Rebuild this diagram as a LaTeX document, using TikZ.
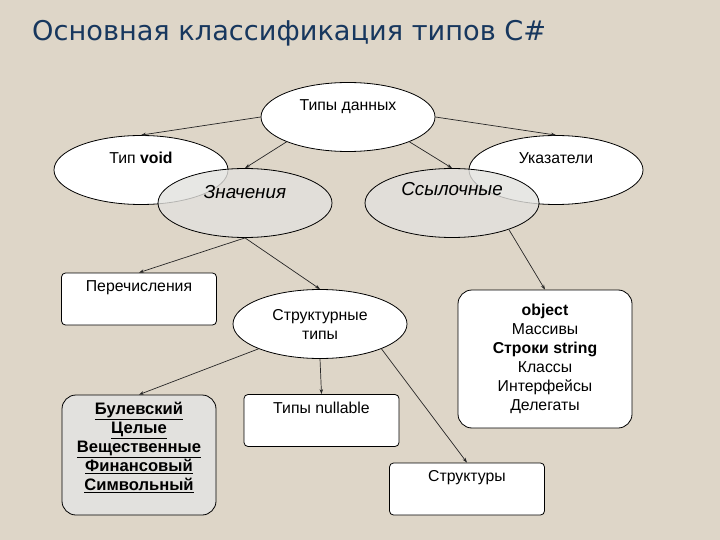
\documentclass[tikz,border=0pt]{standalone}
\usepackage{fontspec}
\setmainfont{Liberation Sans}
\newfontfamily\titlefont{DejaVu Sans}
\definecolor{slidebeige}{RGB}{222,214,200}
\definecolor{slideblue}{RGB}{23,55,94}
\definecolor{shadegray}{RGB}{226,225,222}
\usetikzlibrary{shapes.geometric,arrows.meta,backgrounds}
\tikzset{
  oval/.style={draw, ellipse, fill=white, line width=0.8pt, minimum width=174pt, minimum height=69pt,
    inner sep=0pt, align=center, font=\fontsize{15.8}{19}\selectfont},
  shadedoval/.style={oval, fill=shadegray, fill opacity=0.8, text opacity=1,
    font=\fontsize{18.8}{22}\selectfont\itshape},
  flatbox/.style={draw, rectangle, rounded corners=4pt, fill=white, line width=0.8pt, minimum width=155pt,
    inner sep=3pt, text height=15.5pt, text depth=30.5pt, font=\fontsize{15.8}{19}\selectfont},
  roundbox/.style={draw, rectangle, rounded corners=14pt, fill=white, line width=0.8pt,
    align=center, font=\fontsize{15.8}{19}\selectfont},
  arr/.style={-{Stealth[length=5pt,width=3.5pt]}, line width=0.7pt, draw=black!85}
}

\begin{document}
\begin{tikzpicture}[x=1pt, y=-1pt]
  \begin{scope}[on background layer]
    \fill [slidebeige] (0,0) rectangle (720,540);
  \end{scope}

  \node [anchor=base west, inner sep=0pt, text=slideblue, font=\titlefont\fontsize{27.2}{30}\selectfont] (title) at (32,41) {Основная классификация типов C\#};

  \node [oval] (data) at (348,117) {Типы данных\\\strut};
  \node [oval] (void) at (141,170) {Тип \textbf{void}\\\strut};
  \node [oval] (ptr) at (556,170) {Указатели\\\strut};
  \node [shadedoval] (vals) at (245,203) {Значения\\[-6pt]\strut};
  \node [shadedoval] (refs) at (452,203) {Ссылочные\\\strut};

  \node [flatbox] (enum) at (139,299) {Перечисления};
  \node [oval] (struct) at (320,324) {Структурные\\типы};
  \node [roundbox, minimum width=174pt, minimum height=138pt] (obj) at (545,359)
    {\textbf{object}\\Массивы\\\textbf{Строки string}\\Классы\\Интерфейсы\\Делегаты};
  \node [roundbox, fill=shadegray, minimum width=154pt, minimum height=120pt, font=\fontsize{16.6}{19}\selectfont\bfseries] (simple) at (139,455)
    {\underline{Булевский}\\\underline{Целые}\\\underline{Вещественные}\\\underline{Финансовый}\\\underline{Символьный}\\[-8pt]\strut};
  \node [flatbox] (nullable) at (321.5,420.5) {Типы nullable};
  \node [flatbox] (structs) at (467,489) {Структуры};

  \draw [arr] (data.west) -- (void.north);
  \draw [arr] (data.202) -- (vals.north);
  \draw [arr] (data.east) -- (ptr.north);
  \draw [arr] (data.338) -- (refs.north);
  \draw [arr] (vals.south) -- (enum.north);
  \draw [arr] (vals.south) -- (struct.north);
  \draw [arr] (refs.335) -- (obj.north);
  \draw [arr] (struct.202) -- (simple.north);
  \draw [arr] (struct.south) -- (nullable.north);
  \draw [arr] (struct.338) -- (structs.north);
\end{tikzpicture}
\end{document}
